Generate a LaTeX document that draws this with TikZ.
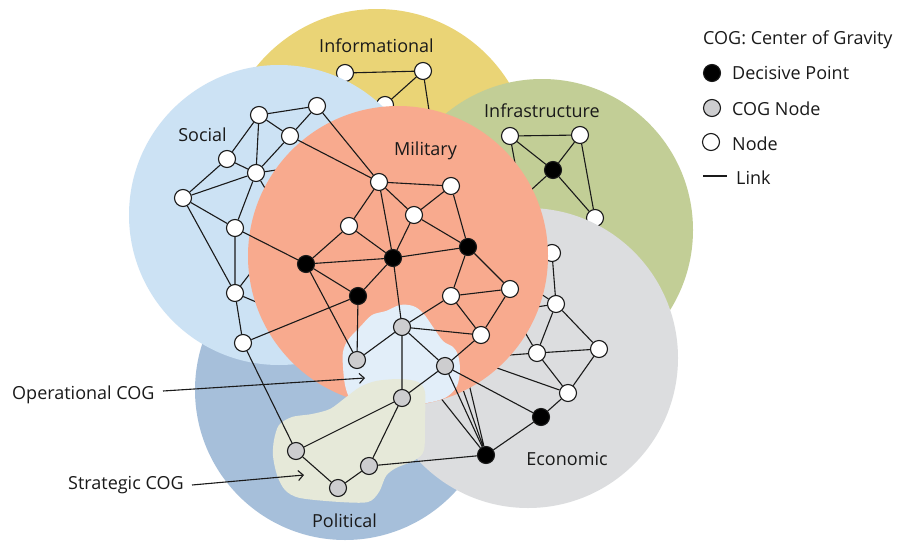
\documentclass[tikz,border=0pt]{standalone}
\usepackage{fontspec}
\setmainfont{Open Sans}
\usetikzlibrary{arrows.meta}
\definecolor{ink}{HTML}{1A1A1A}
\definecolor{infoY}{HTML}{EAD476}
\definecolor{infraG}{HTML}{C2CE96}
\definecolor{socB}{HTML}{CCE2F4}
\definecolor{polB}{HTML}{A6BFDA}
\definecolor{ecoG}{HTML}{DCDDDF}
\definecolor{milR}{HTML}{F8AA8E}
\definecolor{opBlob}{HTML}{E2EEF9}
\definecolor{stBlob}{HTML}{E6E9D9}
\definecolor{cogg}{HTML}{CDCDCF}
\begin{document}
\begin{tikzpicture}[x=1pt,y=-1pt,
  nd/.style={circle,draw=ink,line width=1.1pt,minimum size=17pt,inner sep=0pt},
  wn/.style={nd,fill=white},
  bn/.style={nd,fill=black},
  gn/.style={nd,fill=cogg},
  lk/.style={draw=ink,line width=1.1pt},
  lbl/.style={font=\fontsize{18}{21}\selectfont,text=ink,inner sep=0pt},
  arr/.style={draw=ink,line width=1.1pt,-{Straight Barb[length=5pt,width=10pt,line width=1.1pt]}}
]
\useasboundingbox (0,0) rectangle (905,541);
\fill[white] (0,0) rectangle (905,541);

% ---------- Informational layer
\fill[infoY] (377,164) circle[radius=155];
\node[wn] (I1) at (345,73) {};
\node[wn] (I2) at (423,71) {};
\node[wn] (I3) at (385,105) {};
\coordinate (hI) at (432,130);
\draw[lk] (I1)--(I2) (I2)--(I3) (I2)--(hI);

% ---------- Infrastructure layer
\fill[infraG] (542,230) circle[radius=151];
\node[wn] (F1) at (510,136) {};
\node[wn] (F2) at (580,135) {};
\node[bn] (D7) at (553,170) {};
\node[wn] (F4) at (595,218) {};
\coordinate (hF1) at (520,200);
\coordinate (hF2) at (519,185);
\draw[lk] (F1)--(F2) (F1)--(D7) (F2)--(D7) (F2)--(F4) (D7)--(F4) (D7)--(hF1) (F1)--(hF2);

% ---------- Political layer
\fill[polB] (345,390) circle[radius=150];

% ---------- Social layer
\fill[socB] (279,215) circle[radius=150];
\node[wn] (S1) at (259,115) {};
\node[wn] (S2) at (317,106) {};
\node[wn] (S3) at (290,136) {};
\node[wn] (S4) at (227,159) {};
\node[wn] (S5) at (256,173) {};
\node[wn] (S6) at (183,198) {};
\node[wn] (S7) at (235,228) {};
\node[wn] (S8) at (235,293) {};
\node[wn] (S9) at (243,343) {};
\coordinate (hS1) at (290,168);
\coordinate (hS2) at (275,205);
\coordinate (hS3) at (262,258);
\coordinate (hS4) at (275,310);
\draw[lk] (S1)--(S2) (S1)--(S3) (S1)--(S4) (S1)--(S5) (S2)--(S3) (S3)--(S5)
  (S4)--(S5) (S4)--(S6) (S5)--(S6) (S5)--(S7) (S6)--(S7) (S6)--(S8) (S7)--(S8) (S8)--(S9)
  (S5)--(hS1) (S5)--(hS2) (S8)--(hS3) (S8)--(hS4);

% ---------- Economic layer
\fill[ecoG] (528,358) circle[radius=150];
\node[wn] (E1) at (552,253) {};
\node[wn] (E2) at (556,304) {};
\node[wn] (E3) at (537,353) {};
\node[wn] (E4) at (599,349) {};
\node[wn] (E5) at (568,393) {};
\node[bn] (D5) at (541,417) {};
\node[bn] (D6) at (486,455) {};
\coordinate (hE1) at (420,372);
\coordinate (hE2) at (454,364);
\coordinate (hE3) at (464,363);
\coordinate (hE4) at (480,362);
\coordinate (hE5) at (470,358);
\coordinate (hE6) at (515,315);
\coordinate (hE7) at (510,311);
\coordinate (hE8) at (520,280);
\draw[lk] (E1)--(E2) (E2)--(E3) (E2)--(E4) (E3)--(E4) (E3)--(E5) (E4)--(E5) (E5)--(D5) (D5)--(D6)
  (D6)--(hE1) (D6)--(hE2) (D6)--(hE3) (E5)--(hE4) (E3)--(hE5) (E3)--(hE6) (E2)--(hE7) (E2)--(hE8);

% ---------- Military layer
\fill[milR] (398,256) circle[radius=150];

% ---------- COG areas
\fill[opBlob] plot[smooth cycle, tension=0.55] coordinates {
  (343,352) (348,340) (360,327) (372,315) (386,311) (400,305) (413,306) (423,313)
  (433,327) (443,341) (453,347) (458,355) (460,370) (457,386) (448,396) (436,401)
  (418,404) (390,405) (362,403) (350,398) (345,385) (343,367)};
\fill[stBlob] plot[smooth cycle, tension=0.5] coordinates {
  (274,440) (279,425) (292,417) (312,414) (330,409) (345,398) (360,387) (376,381)
  (400,379) (418,382) (425,392) (425,420) (424,450) (415,460) (396,468) (386,476)
  (379,492) (368,502) (340,502) (300,498) (285,490) (277,475) (273,456)};

% ---------- Military and COG nodes
\node[wn] (M1) at (379,182) {};
\node[wn] (M2) at (451,186) {};
\node[wn] (M3) at (414,215) {};
\node[wn] (M4) at (349,226) {};
\node[bn] (D3) at (393,258) {};
\node[bn] (D4) at (468,247) {};
\node[bn] (D1) at (306,264) {};
\node[bn] (D2) at (358,296) {};
\node[wn] (M5) at (451,296) {};
\node[wn] (M6) at (510,289) {};
\node[wn] (M7) at (481,335) {};
\node[gn] (C1) at (402,327) {};
\node[gn] (C2) at (357,360) {};
\node[gn] (C3) at (445,366) {};
\node[gn] (C4) at (402,398) {};
\node[gn] (P1) at (296,451) {};
\node[gn] (C5) at (369,466) {};
\node[gn] (C6) at (338,488) {};

\draw[lk] (M1)--(M2) (M1)--(M4) (M1)--(D3) (M1)--(M3) (M2)--(M3) (M2)--(D4) (M3)--(D3) (M3)--(D4)
  (M4)--(D3) (M4)--(D1) (D1)--(D3) (D3)--(D4) (D3)--(D2) (D3)--(C1)
  (D4)--(M5) (D4)--(M6) (M5)--(M6) (M5)--(M7) (M6)--(M7) (M5)--(C1) (C1)--(M7)
  (C1)--(C2) (C1)--(C3) (C1)--(C4) (M7)--(C3) (D2)--(C2) (D1)--(D2) (D1)--(C2)
  (D2)--(S9) (S7)--(D1) (S2)--(M1) (S3)--(M1) (S9)--(P1)
  (C3)--(C4) (C4)--(P1) (C4)--(C5) (P1)--(C6) (C6)--(C5) (C5)--(D6) (C3)--(D6) (C3)--(D5);

% ---------- Domain labels
\node[lbl,anchor=base] (tInfo) at (376.5,52) {Informational};
\node[lbl,anchor=base] (tInfra) at (542,117) {Infrastructure};
\node[lbl,anchor=base] (tSoc) at (202.5,141) {Social};
\node[lbl,anchor=base] (tMil) at (425.5,155) {Military};
\node[lbl,anchor=base] (tEco) at (567,465) {Economic};
\node[lbl,anchor=base] (tPol) at (344.5,527) {Political};

% ---------- COG callouts
\node[lbl,anchor=base west] (tOp) at (12,399) {Operational COG};
\node[lbl,anchor=base west] (tSt) at (68,489) {Strategic COG};
\coordinate (opS) at (163,391);
\coordinate (opT) at (365,378);
\coordinate (stS) at (192,485);
\coordinate (stT) at (304,475);
\draw[arr] (opS) -- (opT);
\draw[arr] (stS) -- (stT);

% ---------- Legend
\node[lbl,anchor=base west] (lgT) at (703,44) {COG: Center of Gravity};
\node[bn] (lgD) at (712,73) {};
\node[lbl,anchor=base west] (lgDt) at (732,79) {Decisive Point};
\node[gn] (lgC) at (712,108) {};
\node[lbl,anchor=base west] (lgCt) at (732,115) {COG Node};
\node[wn] (lgN) at (711,142) {};
\node[lbl,anchor=base west] (lgNt) at (732,150) {Node};
\coordinate (lk1) at (703,176);
\coordinate (lk2) at (727,176);
\draw[lk] (lk1) -- (lk2);
\node[lbl,anchor=base west] (lgLt) at (736,184) {Link};
\end{tikzpicture}
\end{document}
